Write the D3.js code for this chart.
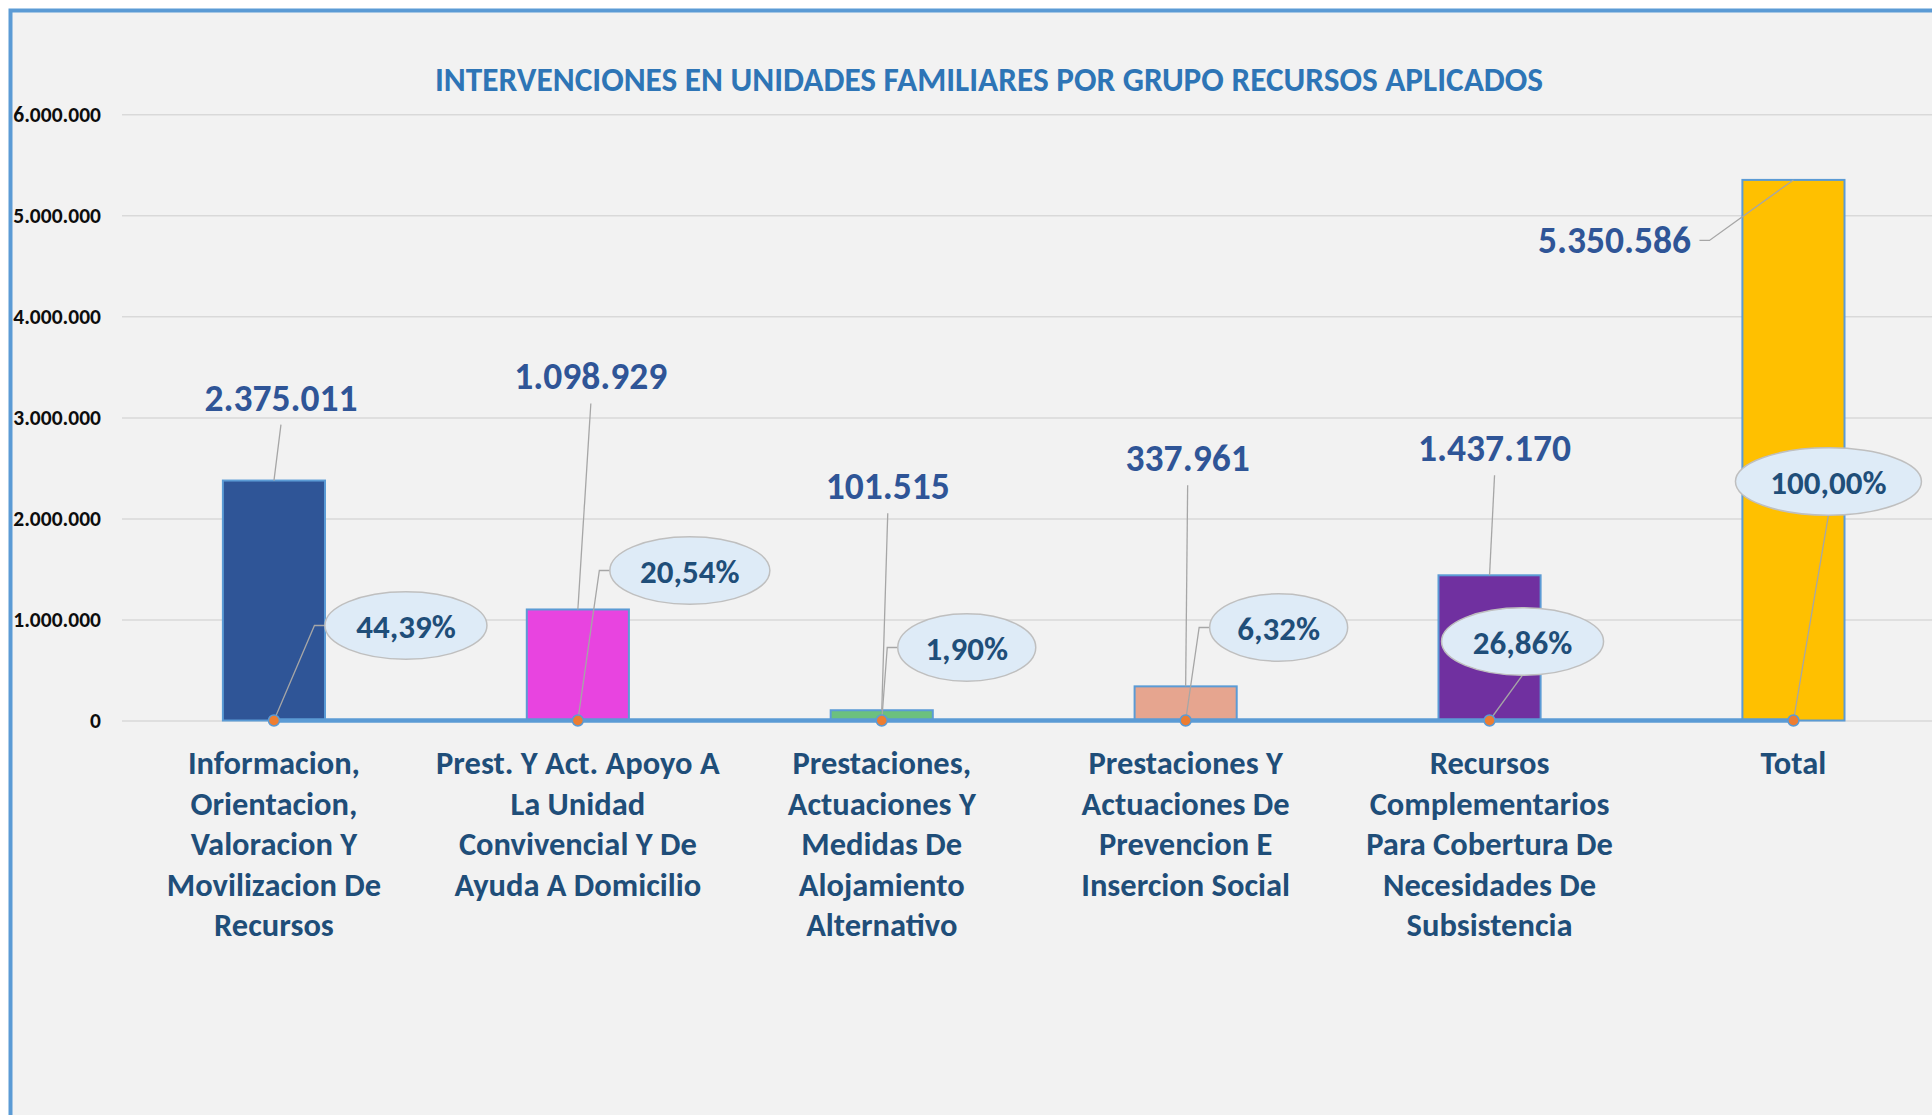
<!DOCTYPE html>
<html lang="es">
<head>
<meta charset="UTF-8">
<title>Intervenciones en unidades familiares</title>
<script src="https://cdn.jsdelivr.net/npm/d3@7"></script>
<style>
  html, body { margin: 0; padding: 0; background: #ffffff; }
  svg { display: block; font-family: Carlito, Calibri, "Open Sans", sans-serif; font-weight: bold; }
</style>
</head>
<body>
<svg id="chart" width="1932" height="1115"></svg>
<script>
// data
const categories = [
    "Informacion,\nOrientacion,\nValoracion Y\nMovilizacion De\nRecursos",
    "Prest. Y Act. Apoyo A\nLa Unidad\nConvivencial Y De\nAyuda A Domicilio",
    "Prestaciones,\nActuaciones Y\nMedidas De\nAlojamiento\nAlternativo",
    "Prestaciones Y\nActuaciones De\nPrevencion E\nInsercion Social",
    "Recursos\nComplementarios\nPara Cobertura De\nNecesidades De\nSubsistencia",
    "Total"
];
const values = [2375011, 1098929, 101515, 337961, 1437170, 5350586];
const percents = [0.4439, 0.2054, 0.0190, 0.0632, 0.2686, 1.0000];
const yTicks = [0, 1000000, 2000000, 3000000, 4000000, 5000000, 6000000];
const title = "INTERVENCIONES EN UNIDADES FAMILIARES POR GRUPO RECURSOS APLICADOS";

// styles
const barColors = ["#2f5597", "#e844e0", "#6cc07e", "#e6a58f", "#7030a0", "#ffc000"];

// label placement (offsets from the point the label belongs to)
const valueLabelPos = [[7, -70], [13, -220], [6, -211], [2, -215], [5, -114], [-179, 73]];
const calloutPos = [[132, -95, 81], [112, -150, 80], [85, -73, 69], [93, -93, 69], [33, -79, 81], [35, -239, 93]];
const calloutLeader = ["side", "side", "side", "side", "bottom", "bottom"];

const es = d3.formatLocale({decimal: ",", thousands: ".", grouping: [3], currency: ["", " €"]});
const fmtNum = es.format(",d");
const fmtPct = es.format(".2%");

const svg = d3.select("#chart");

const plot = {left: 122, right: 1945.4, top: 114.3, bottom: 720.5};

const x = d3.scaleBand()
    .domain(d3.range(categories.length))
    .range([plot.left, plot.right])
    .paddingInner(0.664)
    .paddingOuter(0.332);

const y = d3.scaleLinear()
    .domain([0, 6000000])
    .range([plot.bottom, plot.top]);

const cx = i => x(i) + x.bandwidth() / 2;

// chart area with the frame
svg.append("rect")
    .attr("x", 10.5).attr("y", 10.5)
    .attr("width", 1940).attr("height", 1120)
    .attr("fill", "#f2f2f2")
    .attr("stroke", "#5b9bd5")
    .attr("stroke-width", 4);

svg.append("text")
    .attr("x", 989).attr("y", 90.7)
    .attr("text-anchor", "middle")
    .attr("fill", "#2e75b6")
    .attr("font-size", 33.3)
    .text(title);

// y axis
const yAxis = svg.append("g")
    .attr("transform", "translate(" + plot.left + ",0)")
    .call(d3.axisLeft(y).tickValues(yTicks).tickFormat(fmtNum).tickSize(-(1932 - plot.left)).tickPadding(21));
yAxis.select(".domain").remove();
yAxis.selectAll(".tick line").attr("stroke", "#d9d9d9").attr("stroke-width", 1.5);
yAxis.selectAll(".tick text")
    .attr("fill", "#0d0d0d")
    .attr("font-size", 21.5)
    .attr("dy", 7);
yAxis.attr("font-family", null).attr("font-size", null);

// bars
svg.selectAll("rect.bar")
    .data(values)
    .enter()
    .append("rect")
    .attr("class", "bar")
    .attr("x", (d, i) => x(i))
    .attr("y", d => y(d))
    .attr("width", x.bandwidth())
    .attr("height", d => y(0) - y(d))
    .attr("fill", (d, i) => barColors[i])
    .attr("stroke", "#5b9bd5")
    .attr("stroke-width", 2);

// percent line series (same axis, so it sits on zero)
const line = d3.line()
    .x((d, i) => cx(i))
    .y(d => y(d));

svg.append("path")
    .datum(percents)
    .attr("d", line)
    .attr("fill", "none")
    .attr("stroke", "#5b9bd5")
    .attr("stroke-width", 4.5);

// leader lines for the value labels
svg.selectAll("path.valueLeader")
    .data(values)
    .enter()
    .append("path")
    .attr("class", "valueLeader")
    .attr("fill", "none")
    .attr("stroke", "#a6a6a6")
    .attr("stroke-width", 1.3)
    .attr("d", function(d, i) {
        const bx = cx(i), by = y(d);
        const lx = bx + valueLabelPos[i][0], ly = by + valueLabelPos[i][1];
        if (valueLabelPos[i][0] < -100) {
            // label sits left of the bar: leave from its right side
            return "M" + (lx + 85) + "," + (ly - 12.5) + "H" + (lx + 95) + "L" + bx + "," + by;
        }
        return "M" + lx + "," + (ly + 14) + "L" + bx + "," + by;
    });

// leader lines for the callouts
svg.selectAll("path.pctLeader")
    .data(percents)
    .enter()
    .append("path")
    .attr("class", "pctLeader")
    .attr("fill", "none")
    .attr("stroke", "#a6a6a6")
    .attr("stroke-width", 1.3)
    .attr("d", function(d, i) {
        const px = cx(i), py = y(d);
        const ex = px + calloutPos[i][0], ey = py + calloutPos[i][1], rx = calloutPos[i][2];
        if (calloutLeader[i] === "side") {
            return "M" + px + "," + py + "L" + (ex - rx - 10.5) + "," + ey + "H" + (ex - rx);
        }
        return "M" + px + "," + py + "L" + ex + "," + (ey + 33.7);
    });

// markers
svg.selectAll("circle.marker")
    .data(percents)
    .enter()
    .append("circle")
    .attr("class", "marker")
    .attr("cx", (d, i) => cx(i))
    .attr("cy", d => y(d))
    .attr("r", 5.5)
    .attr("fill", "#ed7d31")
    .attr("stroke", "#5b9bd5")
    .attr("stroke-width", 1.5);

// value labels
svg.selectAll("text.valueLabel")
    .data(values)
    .enter()
    .append("text")
    .attr("class", "valueLabel")
    .attr("x", (d, i) => cx(i) + valueLabelPos[i][0])
    .attr("y", (d, i) => y(d) + valueLabelPos[i][1])
    .attr("text-anchor", "middle")
    .attr("fill", "#2f5597")
    .attr("font-size", 37.5)
    .text(d => fmtNum(d));

// percent callouts
const callouts = svg.selectAll("g.callout")
    .data(percents)
    .enter()
    .append("g")
    .attr("class", "callout")
    .attr("transform", (d, i) => "translate(" + (cx(i) + calloutPos[i][0]) + "," + (y(d) + calloutPos[i][1]) + ")");

callouts.append("ellipse")
    .attr("rx", (d, i) => calloutPos[i][2])
    .attr("ry", 33.7)
    .attr("fill", "#deebf7")
    .attr("stroke", "#bfbfbf")
    .attr("stroke-width", 1.5);

callouts.append("text")
    .attr("y", 12.5)
    .attr("text-anchor", "middle")
    .attr("fill", "#1f4e79")
    .attr("font-size", 33)
    .text(d => fmtPct(d));

// category labels
svg.selectAll("text.category")
    .data(categories)
    .enter()
    .append("text")
    .attr("class", "category")
    .attr("text-anchor", "middle")
    .attr("fill", "#1f4e79")
    .attr("font-size", 32.5)
    .each(function(d, i) {
        const t = d3.select(this);
        d.split("\n").forEach(function(part, k) {
            t.append("tspan")
                .attr("x", cx(i))
                .attr("y", 774 + k * 40.5)
                .text(part);
        });
    });
</script>
</body>
</html>
